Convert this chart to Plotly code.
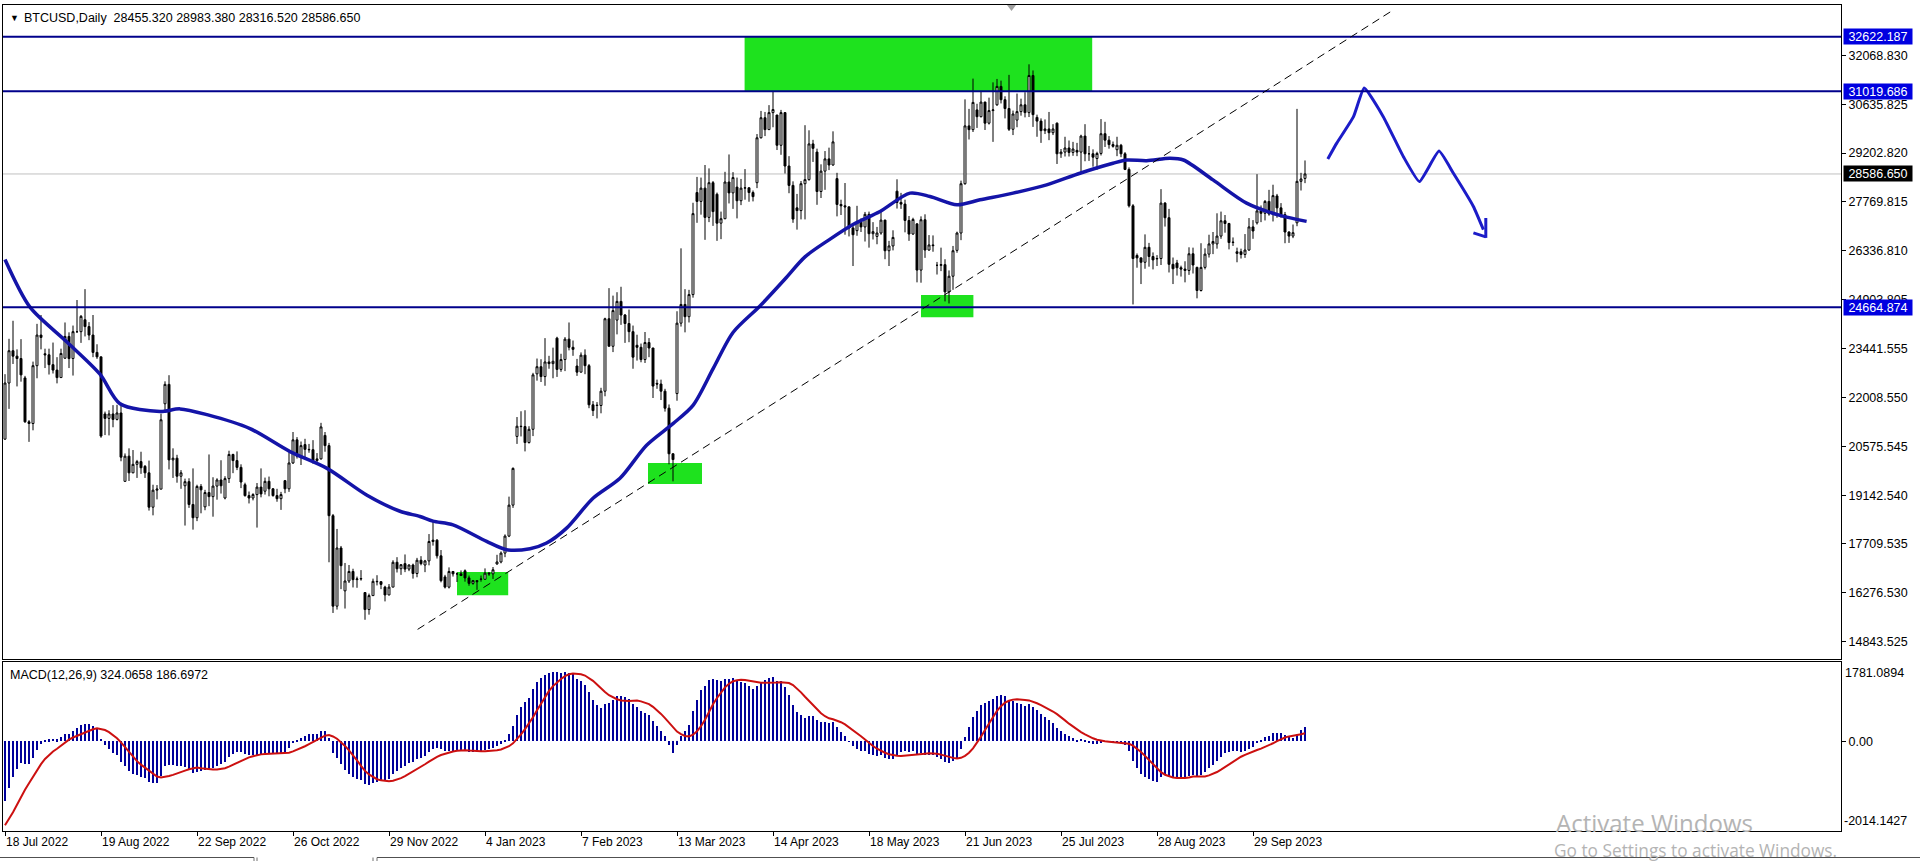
import plotly.graph_objects as go

# ---------------- DATA ----------------
# Daily BTCUSD bars (weekday bars, 18 Jul 2022 .. 18 Oct 2023)
opens = [
    20790, 22440, 23390, 23230, 23160,
    22590, 21300, 21250, 22950, 23850,
    23300, 23270, 22980, 22820, 22600,
    23170, 23810, 23160, 23950, 23950,
    24300, 24100, 23850, 23340, 23210,
    21530, 21400, 21530, 21370, 21560,
    19550, 20290, 19800, 20050, 20130,
    19990, 19800, 18790, 19290, 19320,
    21830, 22400, 20180, 20230, 19700,
    19420, 19540, 18870, 18480, 19400,
    18800, 19220, 19100, 19410, 19590,
    19060, 19630, 20340, 20160, 19960,
    19450, 19130, 19060, 19160, 19380,
    19260, 19550, 19330, 19130, 19040,
    19570, 19330, 20090, 20770, 20290,
    20630, 20490, 20480, 20160, 20210,
    20900, 20600, 18540, 15880, 17590,
    16330, 16620, 16900, 16660, 16680,
    16280, 15780, 16190, 16610, 16600,
    16440, 16210, 16440, 17170, 16980,
    17130, 16970, 17090, 16840, 17230,
    17090, 17210, 17780, 17820, 17360,
    16740, 16440, 16900, 16830, 16830,
    16920, 16710, 16550, 16630,
    16680, 16670, 16850, 16830,
    17120, 17180, 17440, 17940, 18850,
    20870, 21170, 21160, 20690, 21080,
    22710, 22920, 22630, 23060, 23010,
    23760, 22840, 23130, 23730, 23490,
    22940, 22760, 23260, 22950, 21800,
    21790, 21780, 22200, 24330, 23520,
    24290, 24840, 24440, 24190, 23950,
    23550, 23490, 23130, 23630, 23470,
    22430, 22410, 22200, 21700, 20360,
    22130, 24200, 24750, 24390, 25040,
    28040, 27780, 28170, 27310, 28330,
    27990, 27140, 27270, 28350, 28030,
    28200, 27800, 28170, 28180, 28040,
    28330, 29650, 30240, 29890, 30390,
    30320, 29430, 30390, 28820, 28250,
    27590, 27510, 28300, 28420, 29470,
    29230, 28070, 28670, 29030, 28850,
    28450, 27690, 27650, 27620, 27000,
    26920, 27170, 27030, 27400, 26830,
    26750, 26850, 27230, 26330, 26470,
    28080, 27750, 27700, 27220, 26820,
    27120, 25760, 27240, 26350, 26500,
    25900, 25900, 25920, 25120, 25580,
    26340, 26850, 28300, 30000, 29890,
    30470, 30270, 30700, 30080, 30450,
    30620, 31160, 30770, 30510, 29900,
    30170, 30420, 30620, 30390, 31480,
    30250, 30140, 29860, 29910, 29800,
    30080, 29180, 29230, 29350, 29220,
    29280, 29230, 29700, 29180, 29180,
    29040, 29190, 29770, 29580, 29450,
    29300, 29430, 29180, 28720, 27650,
    26190, 26120, 25990, 26430, 26160,
    26090, 26100, 27730, 27300, 25930,
    25970, 25830, 25790, 25750, 26240,
    25840, 25160, 25840, 26230, 26530,
    26530, 26760, 27210, 27130, 26570,
    26250, 26300, 26220, 26350, 27030,
    27150, 27500, 27430, 27780, 27410,
    27940, 27590, 27390, 26880, 26760,
    27150, 28370, 28455.32,
]
highs = [
    22700, 23740, 24270, 23430, 23730,
    22650, 21350, 23070, 24180, 24440,
    23450, 23450, 23630, 23200, 23450,
    24220, 23930, 24130, 24880, 24440,
    25200, 24230, 24440, 23580, 23210,
    21600, 21640, 21790, 21800, 21860,
    20370, 20520, 20470, 20180, 20420,
    20030, 20160, 19450, 19440, 21540,
    22490, 22670, 20520, 20330, 19880,
    19630, 19640, 19930, 19450, 19470,
    19300, 20340, 19670, 19640, 20170,
    19700, 20450, 20360, 20430, 20050,
    19510, 19250, 19200, 19500, 19930,
    19660, 19690, 19350, 19330, 19240,
    19590, 20400, 21000, 20850, 20720,
    20800, 20650, 20760, 20380, 21270,
    21000, 20680, 18590, 18150, 17650,
    17150, 17090, 16980, 16750, 16940,
    16290, 16250, 16690, 16790, 16600,
    16480, 16530, 17230, 17320, 17110,
    17400, 17110, 17130, 17300, 17350,
    17240, 18000, 18390, 17850, 17530,
    16800, 17020, 16910, 16870, 16930,
    16960, 16780, 16650, 16640,
    16780, 16990, 16880, 17030,
    17390, 17490, 17990, 19100, 19960,
    21440, 21610, 21640, 21170, 22740,
    23160, 23140, 23760, 23240, 23480,
    23800, 23300, 23790, 24220, 23690,
    23150, 23340, 23430, 23000, 21910,
    21880, 22300, 24360, 25230, 25010,
    25110, 25270, 24470, 24600, 24130,
    23860, 23600, 23940, 23760, 23470,
    22540, 22540, 22270, 21810, 20370,
    24550, 26400, 25200, 25180, 27740,
    28500, 28480, 28850, 28750, 28380,
    28040, 27480, 28650, 29160, 28640,
    28480, 28440, 28730, 28190, 28100,
    29760, 30440, 30410, 30610, 31000,
    30320, 30470, 30400, 29110, 28370,
    28000, 28380, 30020, 29870, 29590,
    29330, 28870, 29260, 29360, 29840,
    28620, 27830, 28320, 27620, 27060,
    27650, 27280, 27470, 27480, 27170,
    27030, 27480, 27240, 26620, 26930,
    28430, 28030, 27830, 27350, 27300,
    27130, 27340, 27400, 26790, 26780,
    26000, 26420, 26080, 25750, 26470,
    26890, 28390, 30780, 30500, 31390,
    30650, 31000, 30710, 30830, 31280,
    31380, 31330, 30870, 31500, 30450,
    30950, 30800, 30990, 31810, 31630,
    30330, 30220, 30190, 30410, 30050,
    30100, 29320, 29680, 29570, 29530,
    29500, 29740, 30050, 29410, 29310,
    29240, 30200, 30120, 29700, 29540,
    29680, 29470, 29230, 28780, 27700,
    26250, 26120, 26810, 26560, 26280,
    26200, 28140, 27760, 27560, 26130,
    26060, 25890, 26020, 26430, 26420,
    25860, 26550, 26400, 26800, 26880,
    27430, 27480, 27380, 27150, 26720,
    26420, 26390, 26820, 27290, 27230,
    28580, 27660, 27820, 28120, 28270,
    28000, 27730, 27470, 26900, 27100,
    30500, 28620, 28983.38,
]
lows = [
    20770, 21680, 23000, 22340, 22480,
    21270, 20710, 21050, 22580, 23430,
    22880, 22690, 22720, 22430, 22590,
    23150, 22880, 22660, 23910, 23620,
    23810, 23700, 23200, 23150, 20830,
    20910, 20900, 21140, 21340, 20140,
    19540, 19560, 19790, 19650, 19770,
    19650, 18690, 18550, 19020, 19320,
    21560, 19900, 19650, 19510, 19330,
    18250, 18770, 18130, 18380, 18610,
    18700, 18820, 18510, 19010, 19190,
    19020, 19500, 19790, 19880, 19350,
    19100, 18900, 18990, 18190, 19080,
    19160, 19110, 19100, 18950, 18710,
    19200, 19240, 20060, 20220, 20030,
    20240, 20390, 20070, 20060, 20190,
    20420, 17170, 15680, 15780, 16380,
    15810, 16560, 16430, 16420, 16630,
    15480, 15630, 16180, 16490, 16380,
    16020, 16200, 16440, 16870, 16800,
    16880, 16910, 16690, 16730, 17080,
    16880, 17080, 17660, 17280, 16580,
    16400, 16400, 16750, 16590, 16770,
    16600, 16480, 16510, 16360,
    16600, 16660, 16770, 16680,
    17100, 17140, 17320, 17910, 18770,
    20650, 20870, 20430, 20660, 20880,
    22510, 22470, 22360, 22860, 22580,
    22620, 22770, 22790, 23400, 23240,
    22650, 22750, 22700, 21700, 21470,
    21400, 21550, 22050, 23520, 23350,
    23870, 24150, 23620, 23640, 22860,
    23100, 23050, 23030, 23200, 22000,
    22270, 21940, 21600, 20050, 19550,
    21920, 24100, 23930, 24220, 24950,
    27150, 27390, 26650, 27170, 27060,
    26620, 26670, 27260, 27720, 27560,
    27280, 27670, 27830, 27770, 27780,
    28170, 29630, 29700, 29880, 29960,
    29290, 29150, 28600, 28020, 27150,
    26950, 27250, 27250, 28390, 28940,
    27680, 27880, 28120, 28700, 28830,
    27340, 27380, 26800, 26750, 25880,
    26770, 26880, 26600, 26420, 26660,
    26520, 26800, 26080, 25880, 26340,
    27570, 27560, 26870, 26620, 26800,
    25400, 25390, 26120, 26330, 26300,
    25630, 25730, 24840, 24780, 25180,
    26270, 26640, 28270, 29600, 29820,
    29940, 30250, 29880, 30040, 29530,
    30590, 30660, 30220, 29850, 29730,
    29960, 30300, 30250, 30260, 29970,
    29680, 29500, 29760, 29580, 29730,
    28880, 29060, 29100, 29100, 29120,
    29110, 28590, 28960, 28970, 28800,
    28710, 29130, 29380, 29330, 29360,
    29110, 29080, 28700, 27600, 24750,
    25830, 25350, 25800, 25860, 25780,
    25880, 25910, 27040, 25690, 25350,
    25600, 25570, 25400, 25620, 25660,
    24930, 25130, 25780, 26130, 26230,
    26390, 26680, 26860, 26370, 26470,
    25990, 26100, 26120, 26330, 26680,
    27100, 27170, 27220, 27360, 27190,
    27300, 27300, 26550, 26560, 26700,
    27050, 28100, 28316.52,
]
closes = [
    22440, 23390, 23230, 23160, 22680,
    21300, 21250, 22950, 23850, 23780,
    23270, 22980, 22820, 22600, 23310,
    23810, 23160, 23950, 23950, 24400,
    24100, 23850, 23340, 23210, 20880,
    21400, 21530, 21370, 21560, 20260,
    20290, 19800, 20050, 20130, 19950,
    19800, 18790, 19290, 19320, 21360,
    22400, 20180, 20230, 19700, 19800,
    19540, 18870, 18480, 19400, 19300,
    19220, 19100, 19410, 19590, 19420,
    19630, 20340, 20160, 19960, 19530,
    19130, 19060, 19160, 19380, 19180,
    19550, 19330, 19130, 19040, 19160,
    19330, 20090, 20770, 20290, 20600,
    20490, 20480, 20160, 20210, 21150,
    20600, 18540, 15880, 17590, 17070,
    16620, 16900, 16660, 16680, 16690,
    15780, 16190, 16610, 16600, 16520,
    16210, 16440, 17170, 16980, 17100,
    16970, 17090, 16840, 17230, 17130,
    17210, 17780, 17820, 17360, 16630,
    16440, 16900, 16830, 16830, 16780,
    16710, 16550, 16630, 16600,
    16670, 16850, 16830, 16950,
    17180, 17440, 17940, 18850, 19930,
    21170, 21160, 20690, 21080, 22680,
    22920, 22630, 23060, 23010, 23080,
    22840, 23130, 23730, 23490, 23430,
    22760, 23260, 22950, 21800, 21630,
    21780, 22200, 24330, 23520, 24570,
    24840, 24440, 24190, 23950, 23200,
    23490, 23130, 23630, 23470, 22350,
    22410, 22200, 21700, 20360, 20190,
    24200, 24750, 24390, 25040, 27420,
    27780, 28170, 27310, 28330, 27480,
    27140, 27270, 28350, 28030, 28480,
    27800, 28170, 28180, 28040, 27920,
    29650, 30240, 29890, 30390, 30480,
    29430, 30390, 28820, 28250, 27260,
    27510, 28300, 28420, 29470, 29340,
    28070, 28670, 29030, 28850, 29530,
    27690, 27650, 27620, 27000, 26800,
    27170, 27030, 27400, 26830, 26890,
    26850, 27230, 26330, 26470, 26720,
    27750, 27700, 27220, 26820, 27250,
    25760, 27240, 26350, 26500, 26480,
    25900, 25920, 25120, 25580, 26330,
    26850, 28300, 30000, 29890, 30690,
    30270, 30700, 30080, 30450, 30470,
    31160, 30770, 30510, 29900, 30350,
    30420, 30620, 30390, 31480, 30330,
    30140, 29860, 29910, 29800, 29910,
    29180, 29230, 29350, 29220, 29320,
    29230, 29700, 29180, 29180, 29080,
    29190, 29770, 29580, 29450, 29400,
    29430, 29180, 28720, 27650, 26100,
    26120, 25990, 26430, 26160, 26060,
    26100, 27730, 27300, 25930, 25800,
    25830, 25790, 25750, 26240, 25910,
    25160, 25840, 26230, 26530, 26600,
    26760, 27210, 27130, 26570, 26580,
    26300, 26220, 26350, 27030, 26910,
    27500, 27430, 27780, 27410, 27950,
    27590, 27390, 26880, 26760, 26860,
    28370, 28440, 28586.65,
]

# Blue moving average (bar position, price)
ma_pos = [0, 6.25, 15.5, 23.75, 28.75, 38.75, 43.75, 50.5, 61.25, 71.25, 80.5, 90.5,
          98.75, 103.75, 107, 112, 120.4, 125.4, 131.25, 135.4, 140.4, 147, 153.75,
          160.4, 167, 172, 177, 182, 188.75, 195, 200, 206, 212, 218.75, 226.25,
          231.25, 238, 243.75, 252, 260.4, 268.75, 277, 280.4, 285.4, 291.25, 294.6,
          302, 310.4, 318.75, 325.4]
ma_val = [26072, 24670, 23645, 22700, 21830, 21600, 21680, 21510, 21100, 20425, 19930, 19140,
          18670, 18517, 18380, 18272, 17785, 17540, 17570, 17736, 18175, 19052, 19640,
          20612, 21246, 21782, 22855, 23927, 24706, 25500, 26150, 26650, 27100, 27485, 28024,
          27925, 27682, 27827, 28024, 28266, 28608, 28900, 28997, 28977, 29047, 28997,
          28412, 27730, 27368, 27193]

# MACD(12,26,9) settings and state carried in from before the first visible bar
macd_fast, macd_slow, macd_signal_len = 12, 26, 9
ema_fast_seed, ema_slow_seed = 20520.0, 22140.0
macd_prior = [-2250, -2200, -2150, -2050, -1950, -1850, -1700, -1450]

# Horizontal levels, current price
levels = [32622.187, 31019.686, 24664.874]
last_price = 28586.650

# Green zones: (bar from, bar to, price low, price high)
zones = [
    (113.0, 125.8, 16202, 16887),
    (160.75, 174.25, 19472, 20089),
    (229.0, 242.1, 24375, 25025),
    (184.9, 271.8, 31019.686, 32622.187),
]
# Dashed trend line: (bar, price) end points
trend_pts = [(103.15, 15197), (347.15, 33413)]

# Hand-drawn forecast path (bar position, price)
path_pos = [330.7, 332.9, 337.1, 339.8, 344.6, 349.6, 353.6, 358.5, 362.1, 367.1, 369.6]
path_val = [29027, 29486, 30264, 31112, 30264, 29094, 28363, 29261, 28608, 27631, 26950]
arrow_pos = [370.2, 370.2, None, 367.1, 370.2]
arrow_val = [27292, 26707, None, 26853, 26736]

# Axis labels
price_ticks = [32068.830, 30635.825, 29202.820, 27769.815, 26336.810, 24903.805, 23441.555,
               22008.550, 20575.545, 19142.540, 17709.535, 16276.530, 14843.525]
date_labels = ["18 Jul 2022", "19 Aug 2022", "22 Sep 2022", "26 Oct 2022", "29 Nov 2022",
               "4 Jan 2023", "7 Feb 2023", "13 Mar 2023", "14 Apr 2023", "18 May 2023",
               "21 Jun 2023", "25 Jul 2023", "28 Aug 2023", "29 Sep 2023"]
bars_per_label = 24
header_text = "BTCUSD,Daily\u00a0\u00a028455.320 28983.380 28316.520 28586.650"
macd_text = "MACD(12,26,9) 324.0658 186.6972"
macd_max, macd_min = 1781.0894, -2014.1427

# ---------------- BUILD ----------------
n = len(closes)
assert len(opens) == n and len(highs) == n and len(lows) == n, (len(opens), len(highs), len(lows), n)
bar_index = list(range(n))

# MACD main line (EMA fast - EMA slow) and SMA signal, as MT4 computes them
a_f = 2.0 / (macd_fast + 1)
a_s = 2.0 / (macd_slow + 1)
ef, es = ema_fast_seed, ema_slow_seed
macd = []
for c in closes:
    ef += (c - ef) * a_f
    es += (c - es) * a_s
    macd.append(ef - es)
ext = macd_prior + macd
signal = [sum(ext[k:k + macd_signal_len]) / macd_signal_len for k in range(n)]

W, H = 1920, 861
FONT = "Liberation Sans, Arial, DejaVu Sans, sans-serif"
LINE_BLUE = "#00008B"
MA_BLUE = "#1414A8"
LABEL_BLUE = "#0000E0"
GREEN = "#1EE21E"
HIST = "#00009A"
RED = "#CC1010"
DRAW_BLUE = "#1C1CC8"


def fx(p):
    return p / W


def fy(p):
    return 1 - p / H


TOP, MAIN_BOT, MACD_TOP, MACD_BOT = 5, 659, 662, 831
LEFT, RIGHT = 3, 1841
X_DOM = [fx(LEFT), fx(RIGHT)]
MAIN_DOM = [fy(MAIN_BOT), fy(TOP)]
MACD_DOM = [fy(MACD_BOT), fy(MACD_TOP)]
PRICE_RANGE = [14326.5, 33554.0]
X_RANGE = [-0.5, 459.0]

fig = go.Figure()
fig.add_trace(go.Candlestick(
    x=bar_index, open=opens, high=highs, low=lows, close=closes,
    increasing=dict(line=dict(color="black", width=1), fillcolor="white"),
    decreasing=dict(line=dict(color="black", width=1), fillcolor="black"),
    whiskerwidth=0, xaxis="x", yaxis="y", hoverinfo="skip", showlegend=False))
fig.add_trace(go.Scatter(
    x=ma_pos, y=ma_val, mode="lines",
    line=dict(color=MA_BLUE, width=3.5, shape="spline", smoothing=0.8),
    xaxis="x", yaxis="y", hoverinfo="skip"))
fig.add_trace(go.Scatter(
    x=path_pos, y=path_val, mode="lines",
    line=dict(color=DRAW_BLUE, width=3, shape="spline", smoothing=0.4),
    xaxis="x", yaxis="y", hoverinfo="skip"))
fig.add_trace(go.Scatter(
    x=arrow_pos, y=arrow_val, mode="lines",
    line=dict(color=DRAW_BLUE, width=3),
    xaxis="x", yaxis="y", hoverinfo="skip"))
fig.add_trace(go.Bar(
    x=bar_index, y=macd, marker=dict(color=HIST, line=dict(width=0)), width=0.62,
    xaxis="x2", yaxis="y2", hoverinfo="skip"))
fig.add_trace(go.Scatter(
    x=bar_index, y=signal, mode="lines", line=dict(color=RED, width=2),
    xaxis="x2", yaxis="y2", hoverinfo="skip"))

shapes = []
for z in zones:
    shapes.append(dict(type="rect", xref="x", yref="y", x0=z[0], x1=z[1], y0=z[2], y1=z[3],
                       fillcolor=GREEN, line=dict(width=0), layer="below"))
shapes.append(dict(type="line", xref="paper", yref="y", x0=X_DOM[0], x1=X_DOM[1],
                   y0=last_price, y1=last_price, line=dict(color="#C0C0C0", width=1), layer="below"))
for lv in levels:
    shapes.append(dict(type="line", xref="paper", yref="y", x0=X_DOM[0], x1=X_DOM[1],
                       y0=lv, y1=lv, line=dict(color=LINE_BLUE, width=2)))
shapes.append(dict(type="line", xref="x", yref="y",
                   x0=trend_pts[0][0], y0=trend_pts[0][1], x1=trend_pts[1][0], y1=trend_pts[1][1],
                   line=dict(color="black", width=1, dash="8px,5px")))
# chart-shift marker at the top
shapes.append(dict(type="path", xref="paper", yref="paper",
                   path=f"M {fx(1007)} {fy(5)} L {fx(1016)} {fy(5)} L {fx(1011.5)} {fy(11)} Z",
                   fillcolor="#A0A0A0", line=dict(width=0)))
# window tab strip at the very bottom
for (xa, xb) in [(0, 254), (377, 1920)]:
    shapes.append(dict(type="line", xref="paper", yref="paper", x0=fx(xa), x1=fx(xb),
                       y0=fy(857.5), y1=fy(857.5), line=dict(color="#505050", width=1)))
for xv in [254, 257, 373, 377]:
    shapes.append(dict(type="line", xref="paper", yref="paper", x0=fx(xv), x1=fx(xv),
                       y0=fy(857.5), y1=fy(861), line=dict(color="#707070", width=1)))

ann = []
ann.append(dict(text="\u25BC", x=fx(8), y=fy(18), xref="paper", yref="paper", xanchor="left",
                yanchor="middle", showarrow=False, font=dict(size=9, color="black")))
ann.append(dict(text=header_text, x=fx(22), y=fy(18), xref="paper", yref="paper", xanchor="left",
                yanchor="middle", showarrow=False, font=dict(size=12.5, color="black")))
ann.append(dict(text=macd_text, x=fx(8), y=fy(675), xref="paper", yref="paper", xanchor="left",
                yanchor="middle", showarrow=False, font=dict(size=12.5, color="black")))
for lv in levels:
    ann.append(dict(text=f"{lv:.3f}", x=fx(1843), y=lv, xref="paper", yref="y", xanchor="left",
                    yanchor="middle", showarrow=False, bgcolor=LABEL_BLUE, width=66, height=13,
                    borderpad=1, align="center", font=dict(size=12.5, color="white")))
ann.append(dict(text=f"{last_price:.3f}", x=fx(1843), y=last_price, xref="paper", yref="y",
                xanchor="left", yanchor="middle", showarrow=False, bgcolor="black", width=66,
                height=13, borderpad=1, align="center", font=dict(size=12.5, color="white")))
ann.append(dict(text=f"{macd_max:.4f}", x=fx(1843), y=fy(664), xref="paper", yref="paper",
                xanchor="left", yanchor="top", showarrow=False, font=dict(size=12.5)))
ann.append(dict(text=f"{macd_min:.4f}", x=fx(1842), y=fy(830), xref="paper", yref="paper",
                xanchor="left", yanchor="bottom", showarrow=False, font=dict(size=12.5)))
ann.append(dict(text="Activate Windows", x=fx(1554), y=fy(822), xref="paper", yref="paper",
                xanchor="left", yanchor="middle", showarrow=False,
                font=dict(family="Open Sans, Noto Sans, sans-serif", size=24, color="#B4B4B4")))
ann.append(dict(text="Go to Settings to activate Windows.", x=fx(1552), y=fy(850), xref="paper",
                yref="paper", xanchor="left", yanchor="middle", showarrow=False,
                font=dict(family="Open Sans, Noto Sans, sans-serif", size=17.3, color="#B4B4B4")))

axis_common = dict(showgrid=False, zeroline=False, showline=True, linecolor="black", linewidth=1,
                   mirror=True, fixedrange=True, automargin=False)

fig.update_layout(
    width=W, height=H, margin=dict(l=0, r=0, t=0, b=0),
    paper_bgcolor="white", plot_bgcolor="white", showlegend=False,
    font=dict(family=FONT, size=12, color="black"),
    bargap=0,
    xaxis=dict(domain=X_DOM, range=X_RANGE, anchor="y", showticklabels=False, ticks="",
               rangeslider=dict(visible=False), **axis_common),
    yaxis=dict(domain=MAIN_DOM, range=PRICE_RANGE, anchor="x", side="right",
               tickvals=price_ticks, ticktext=[f"{v:.3f}" for v in price_ticks],
               ticks="outside", ticklen=4, tickcolor="black", tickfont=dict(size=12.5),
               **axis_common),
    xaxis2=dict(domain=X_DOM, range=X_RANGE, anchor="y2",
                tickvals=[k * bars_per_label for k in range(len(date_labels))],
                ticktext=date_labels, ticks="outside", ticklen=4, tickcolor="black",
                ticklabelposition="outside right", tickfont=dict(size=12), **axis_common),
    yaxis2=dict(domain=MACD_DOM, range=[macd_min, macd_max], anchor="x2", side="right",
                tickvals=[0], ticktext=["0.00"], ticks="outside", ticklen=4, tickcolor="black",
                tickfont=dict(size=12.5), **axis_common),
    shapes=shapes, annotations=ann,
)

fig.write_html("out.html", config={"displayModeBar": False},
               post_script="document.body.style.margin='0';document.body.style.overflow='hidden';")
